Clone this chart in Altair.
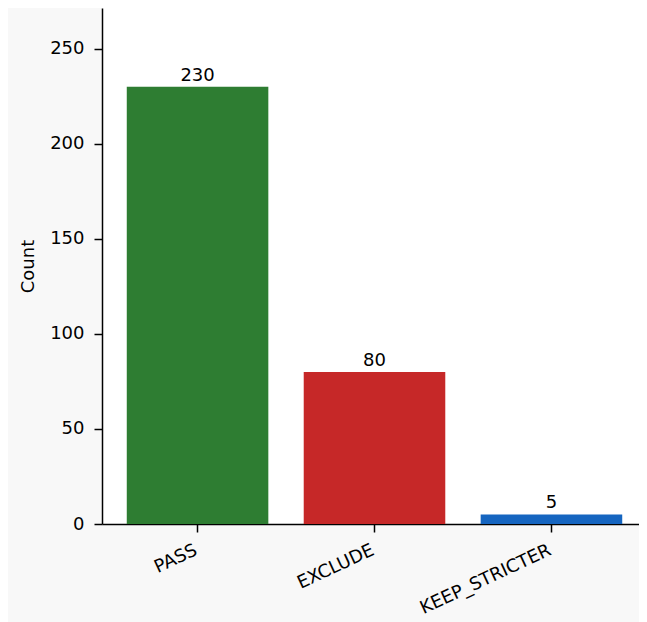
import altair as alt
import pandas as pd

categories = ["PASS", "EXCLUDE", "KEEP_STRICTER"]
counts = [230, 80, 5]
colors = ["#2e7d32", "#c62828", "#1565c0"]

df = pd.DataFrame({"cat": categories, "count": counts, "color": colors})

FS = 18

x = alt.X("cat:N", sort=categories, title=None,
          scale=alt.Scale(range=[0, 545], paddingInner=0.2, paddingOuter=0.14),
          axis=alt.Axis(labelAngle=-25, labelAlign="right", labelBaseline="top",
                        labelPadding=9, labelOffset=-5, tickSize=8, labelFontSize=FS))
y = alt.Y("count:Q", title="Count",
          scale=alt.Scale(domain=[0, 271.5], nice=False, zero=True),
          axis=alt.Axis(values=[0, 50, 100, 150, 200, 250], tickSize=8,
                        labelPadding=10, labelFontSize=FS, titleFontSize=FS,
                        titleFontWeight="normal", titlePadding=12))

bars = alt.Chart(df).mark_bar().encode(
    x=x, y=y, color=alt.Color("color:N", scale=None))
labels = alt.Chart(df).mark_text(baseline="bottom", dy=-2, fontSize=FS,
                                 font="DejaVu Sans", color="black").encode(
    x=alt.X("cat:N", sort=categories), y="count:Q", text="count:Q")

chart = (bars + labels).properties(
    width=537, height=516,
    autosize=alt.AutoSizeParams(type="none"),
    padding={"left": 94, "top": 0, "right": 0, "bottom": 98},
).configure(background="#f8f8f8", font="DejaVu Sans").configure_view(
    fill="white", stroke=None
).configure_axis(
    grid=False, domainColor="black", domainWidth=1.5, tickColor="black",
    tickWidth=1.5, labelColor="black", titleColor="black", labelFont="DejaVu Sans",
    titleFont="DejaVu Sans"
)

chart.save("out.html", embed_options={"renderer": "svg", "actions": False})
